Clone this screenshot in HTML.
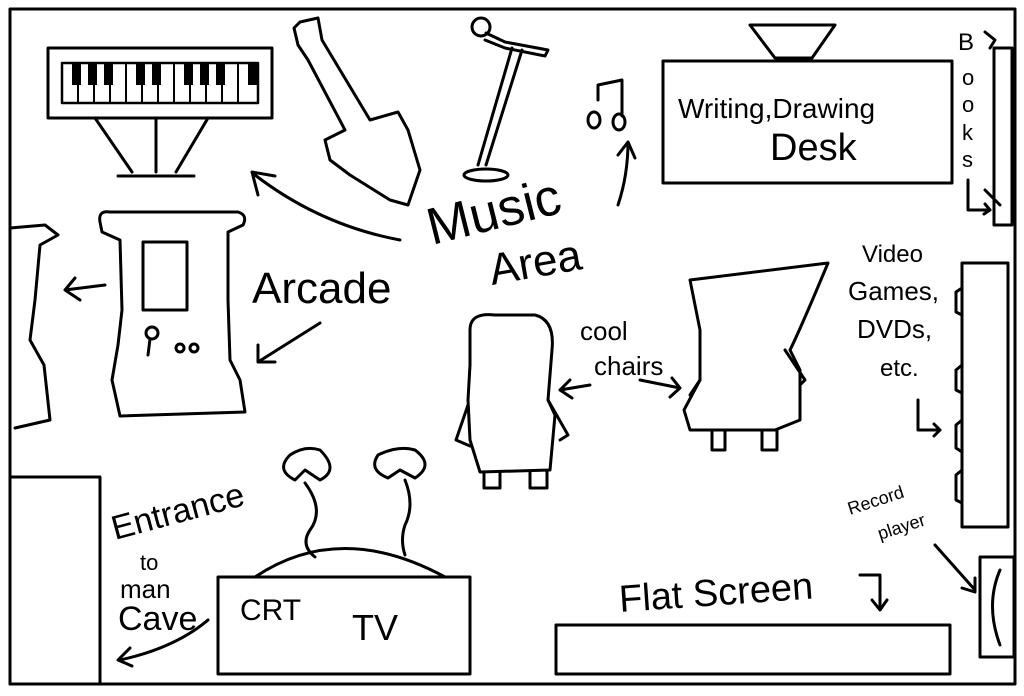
<!DOCTYPE html>
<html><head><style>
html,body{margin:0;padding:0;background:#fff;}
svg{display:block}
text{font-family:"Liberation Sans",sans-serif;fill:#000;}
</style></head><body>
<svg width="1024" height="696" viewBox="0 0 1024 696" xmlns="http://www.w3.org/2000/svg" fill="none" stroke="#000" stroke-width="3" stroke-linecap="round" stroke-linejoin="round">
<rect x="10" y="9" width="1005" height="675" stroke-width="3"/>
<rect x="48" y="48" width="224" height="70"/>
<rect x="62" y="63" width="196" height="40" stroke-width="2.5"/>
<g stroke-width="2">
<path d="M78 63V103M94 63V103M110 63V103M126 63V103M142 63V103M158 63V103M174 63V103M190 63V103M206 63V103M222 63V103M238 63V103"/>
</g>
<g fill="#000" stroke="none">
<rect x="72" y="63" width="9" height="22"/><rect x="88" y="63" width="9" height="22"/><rect x="104" y="63" width="9" height="22"/><rect x="136" y="63" width="9" height="22"/><rect x="152" y="63" width="9" height="22"/><rect x="184" y="63" width="9" height="22"/><rect x="200" y="63" width="9" height="22"/><rect x="216" y="63" width="9" height="22"/><rect x="248" y="63" width="9" height="22"/>
</g>
<path d="M95 118L132 172M208 118L176 172M156 118V172M118 176H194"/>
<path d="M300 22L318 18L322 40L328 50L334 60L370 120L398 112L408 130L420 170L408 205L390 200L350 175L330 160L325 140L345 130L308 60L298 45L294 28Z"/>
<circle cx="481" cy="27" r="9"/>
<path d="M486 33L505 42L548 50L545 56L505 48L485 40M522 50L486 165M512 48L478 165"/>
<ellipse cx="486" cy="175" rx="22" ry="6"/>
<path d="M598 100V85L622 80V116"/>
<ellipse cx="594" cy="120" rx="6" ry="8"/><ellipse cx="619" cy="122" rx="6" ry="8"/>
<path d="M618 205Q628 175 628 142M618 155L628 142L635 158"/>
<path d="M400 240Q320 225 255 175M258 195L252 172L275 176"/>
<path d="M750 25H835L812 58H775Z"/>
<rect x="663" y="61" width="289" height="122"/>
<rect x="994" y="48" width="18" height="177"/>
<path d="M985 32L995 40L990 48M985 190L1000 205M968 180V210H990M985 204L990 210L984 214"/>
<path d="M10 228L45 225L58 235L40 245L35 300L30 340L44 365L50 420L15 428"/>
<path d="M105 285L65 290L80 300M65 290L75 278"/>
<path d="M100 222Q98 210 110 212H238Q248 215 243 225L228 232L228 300L230 360L240 380L245 412L120 416L112 380L118 345L122 310L120 240L102 232Z"/>
<rect x="143" y="242" width="44" height="68"/>
<circle cx="152" cy="333" r="6"/><path d="M150 339L148 355"/>
<circle cx="180" cy="348" r="4"/><circle cx="194" cy="348" r="4"/>
<path d="M320 323L258 362M258 345L258 362L275 362"/>
<path d="M470 330Q470 312 495 315L535 315Q555 320 552 350L548 400L555 415L550 470L480 472L470 440L468 400L470 365Z"/>
<path d="M468 405L456 440L470 446M548 400L568 435L560 440"/>
<path d="M484 472V488H500V472M530 472V488H547V472"/>
<path d="M590 385L560 390L570 380M560 390L572 398"/>
<path d="M690 280L828 263Q800 330 790 350L800 370L800 420L775 430L690 430L684 410L700 380L700 330Z"/>
<path d="M785 350L805 380L800 385M700 380L690 395"/>
<path d="M712 430V450H725V430M762 430V450H777V430"/>
<path d="M640 380L680 388L672 378M680 388L670 397"/>
<rect x="962" y="263" width="46" height="264"/>
<path d="M962 288L956 292V312L962 315M962 365L956 370V390L962 393M962 420L956 425V448L962 452M962 470L956 475V500L962 503"/>
<path d="M918 400V430H940M934 424L940 430L934 436"/>
<rect x="10" y="477" width="90" height="207"/>
<path d="M208 620Q175 648 120 660M130 648L118 660L132 666"/>
<path d="M255 577Q340 520 445 577"/>
<rect x="218" y="577" width="252" height="97"/>
<path d="M290 455Q275 470 295 480L305 470L320 480Q340 470 320 450Q305 445 290 455Z"/>
<path d="M305 483Q325 510 310 530Q300 545 315 557"/>
<path d="M378 455Q368 470 388 478L400 470L415 478Q435 465 415 450Q398 445 378 455Z"/>
<path d="M405 480Q415 505 405 525Q400 540 405 555"/>
<rect x="556" y="625" width="394" height="49"/>
<path d="M860 575H880V608M872 600L880 610L887 600"/>
<rect x="980" y="557" width="34" height="100"/>
<path d="M1000 570Q985 605 1000 645"/>
<path d="M935 545L975 590M962 588L975 592L975 578"/>
<g stroke="none" fill="#000">
<text x="678" y="118" font-size="28">Writing,Drawing</text>
<text x="770" y="160" font-size="38">Desk</text>
<text x="958" y="50" font-size="24">B</text>
<text x="962" y="85" font-size="22">o</text>
<text x="962" y="112" font-size="22">o</text>
<text x="962" y="140" font-size="22">k</text>
<text x="962" y="167" font-size="22">s</text>
<text x="432" y="245" font-size="52" transform="rotate(-14 432 245)">Music</text>
<text x="492" y="285" font-size="44" transform="rotate(-10 492 285)">Area</text>
<text x="252" y="303" font-size="44">Arcade</text>
<text x="580" y="340" font-size="26">cool</text>
<text x="594" y="375" font-size="26">chairs</text>
<text x="862" y="262" font-size="24">Video</text>
<text x="848" y="300" font-size="26">Games,</text>
<text x="857" y="338" font-size="26">DVDs,</text>
<text x="880" y="376" font-size="24">etc.</text>
<text x="850" y="515" font-size="18" transform="rotate(-18 850 515)">Record</text>
<text x="880" y="540" font-size="18" transform="rotate(-18 880 540)">player</text>
<text x="115" y="540" font-size="34" transform="rotate(-15 115 540)">Entrance</text>
<text x="140" y="570" font-size="22">to</text>
<text x="120" y="598" font-size="26">man</text>
<text x="118" y="630" font-size="34">Cave</text>
<text x="240" y="620" font-size="30">CRT</text>
<text x="352" y="640" font-size="36">TV</text>
<text x="620" y="612" font-size="38" transform="rotate(-4 620 612)">Flat Screen</text>
</g>
</svg>
</body></html>
